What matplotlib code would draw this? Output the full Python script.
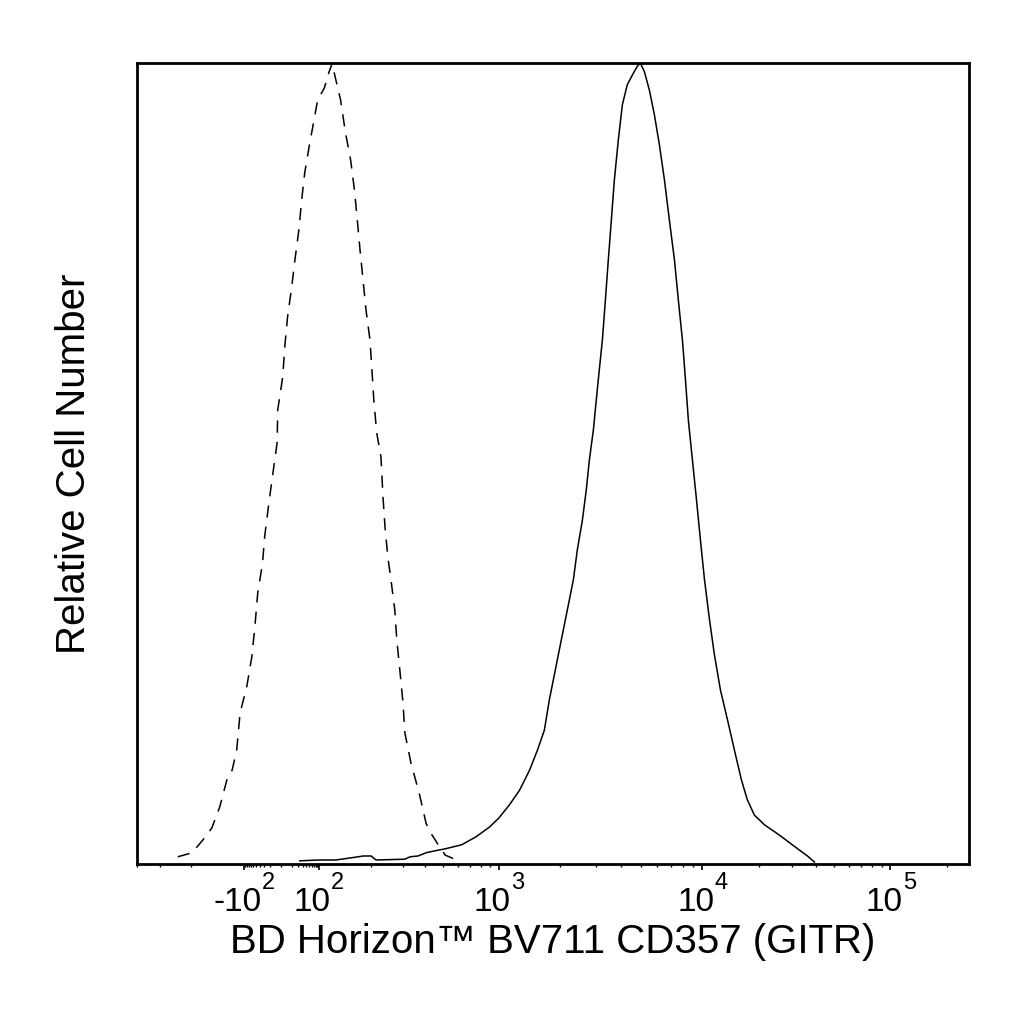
import numpy as np
import matplotlib
matplotlib.use("Agg")
import matplotlib.pyplot as plt
from matplotlib.ticker import FixedLocator, NullLocator

plt.rcParams['font.family'] = ['Liberation Sans', 'DejaVu Sans']
plt.rcParams['axes.unicode_minus'] = False

# ---- data (fluorescence intensity, % of max) ----
iso_x = [-238, -198, -172, -153, -138, -124, -117, -110, -105, -81, -56, -44, -35, -23, -19,
         -12, -7, -3, -2.5, 1, 2.5, 5, 9.5, 14, 21, 27, 35, 52, 65, 93, 108, 115, 120, 124,
         134, 143, 153, 161, 167, 173, 180, 187, 197, 202, 207, 215, 227, 233, 239, 248, 258,
         271, 278, 289, 301, 308, 333, 369, 403, 419, 470, 514, 607]
iso_y = [0.9, 1.4, 3.0, 4.5, 7.1, 10.9, 11.7, 14.2, 18.9, 22.1, 25.8, 29.6, 33.8, 37.6, 40.8,
         45.1, 48.8, 52.6, 56.7, 60.8, 64.5, 68.3, 72.0, 75.4, 79.2, 82.9, 86.3, 90.0, 92.0,
         95.4, 96.9, 98.9, 100, 98.5, 95.4, 91.3, 87.9, 84.1, 80.4, 76.7, 72.9, 69.2, 65.4,
         61.7, 57.9, 53.8, 50.8, 45.8, 42.1, 38.3, 35.5, 31.7, 28.0, 24.2, 20.1, 16.4, 12.6,
         8.9, 5.1, 4.2, 2.4, 1.1, 0.4]

gitr_x = [23, 101, 126, 169, 180, 200, 213, 308, 329, 364, 403, 441, 514, 631, 755, 891, 1000,
          1132, 1268, 1420, 1553, 1680, 1778, 1901, 2036, 2178, 2333, 2438, 2582, 2698, 2793,
          2924, 3020, 3126, 3236, 3348, 3460, 3581, 3705, 3874, 4055, 4288, 4539, 4798, 4966,
          5200, 5500, 5821, 6155, 6515, 6887, 7295, 7621, 7980, 8260, 8531, 8933, 9354, 9775,
          10250, 10900, 11580, 12470, 13590, 14800, 16120, 17340, 18900, 21380, 25700, 30860,
          36200, 39450]
gitr_y = [0.4, 0.5, 0.5, 0.9, 1.0, 1.0, 0.5, 0.6, 0.9, 1.0, 1.4, 1.6, 1.9, 2.4, 3.4, 4.6, 5.7,
          7.4, 9.2, 11.7, 14.2, 16.7, 20.5, 24.2, 28.0, 31.7, 35.5, 39.2, 42.9, 46.7, 50.4,
          54.2, 57.9, 61.7, 65.4, 70.4, 75.4, 80.4, 85.4, 90.4, 94.8, 97.3, 98.5, 99.6, 100,
          98.9, 96.6, 93.5, 89.8, 85.4, 80.4, 75.4, 70.4, 65.4, 60.4, 55.4, 50.4, 45.4, 40.4,
          35.5, 30.5, 26.1, 21.7, 18.0, 14.2, 10.5, 8.0, 6.1, 4.9, 3.6, 2.2, 1.0, 0.25]

tick_values = [-100, 100, 1000, 10000, 100000]
tick_bases = ['-10', '10', '10', '10', '10']
tick_exps = ['2', '2', '3', '4', '5']
x_label = 'BD Horizon™ BV711 CD357 (GITR)'
y_label = 'Relative Cell Number'

# ---- biexponential-like display scale ----
def _g(x):
    x = np.asarray(x, dtype=float)
    return np.sign(x) * np.log10(1.0 + np.abs(x) / 10.0)

def _ginv(g):
    g = np.asarray(g, dtype=float)
    return np.sign(g) * 10.0 * (10.0 ** np.abs(g) - 1.0)

ANCH_X = np.array([-1000, -100, 100, 1e3, 1e4, 1e5, 1e6])
ANCH_U = np.array([64, 244, 319, 499, 703, 891, 1079], dtype=float)
ANCH_G = _g(ANCH_X)

def fwd(x):
    return np.interp(_g(x), ANCH_G, ANCH_U)

def inv(u):
    return _ginv(np.interp(u, ANCH_U, ANCH_G))

fig = plt.figure(figsize=(10.24, 10.24), dpi=100)
ax = fig.add_axes([137/1024, 1 - 864/1024, (969-137)/1024, (864-63)/1024])
ax.set_xscale('function', functions=(fwd, inv))

ax.plot(iso_x, iso_y, color='black', lw=1.1, linestyle=(0, (8, 6)))
ax.plot(gitr_x, gitr_y, color='black', lw=1.1)

ax.set_xlim(-400, 262144)
ax.set_ylim(0, 100)

# ticks
minor = list(range(-90, 100, 10)) + [-200, -300, -400]
for k in (2, 3, 4):
    minor += [m * 10 ** k for m in range(2, 10)]
minor += [200000]
ax.xaxis.set_major_locator(FixedLocator(tick_values))
ax.set_xticklabels([''] * len(tick_values))
ax.xaxis.set_minor_locator(FixedLocator(minor))
ax.yaxis.set_major_locator(NullLocator())
ax.yaxis.set_minor_locator(NullLocator())
ax.tick_params(axis='x', which='major', direction='out', length=4, width=1.2)
ax.tick_params(axis='x', which='minor', direction='out', length=2.5, width=1.0)

# power-of-ten tick labels: base + raised exponent, centred as a whole on the tick
base_fs, exp_fs = 24, 17
for v, b, e in zip(tick_values, tick_bases, tick_exps):
    junction = 8.6 if b == '10' else 12.6   # points right of tick
    ax.annotate(b, xy=(v, 0), xycoords=('data', 'axes fraction'),
                xytext=(junction, -33.8), textcoords='offset points',
                ha='right', va='baseline', fontsize=base_fs, annotation_clip=False)
    ax.annotate(e, xy=(v, 0), xycoords=('data', 'axes fraction'),
                xytext=(junction + 0.3, -18.3), textcoords='offset points',
                ha='left', va='baseline', fontsize=exp_fs, annotation_clip=False)

for s in ax.spines.values():
    s.set_linewidth(2.0)
    s.set_color('black')

ax.set_xlabel(x_label, fontsize=29)
ax.xaxis.label.set_va('baseline')
ax.xaxis.set_label_coords(0.5, -0.111)
ax.set_ylabel(y_label, fontsize=29, labelpad=32)

fig.savefig('out.png', dpi=100, facecolor='white')
